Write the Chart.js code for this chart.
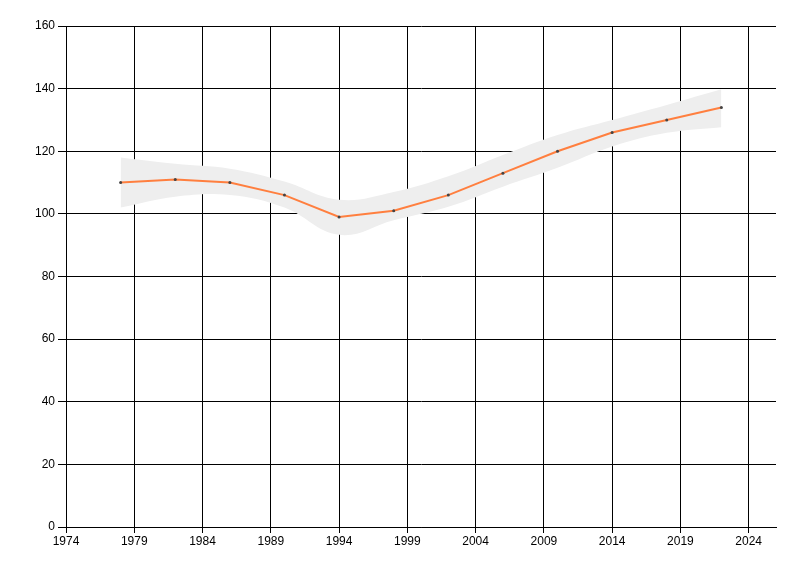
<!DOCTYPE html>
<html>
<head>
<meta charset="utf-8">
<script src="https://cdn.jsdelivr.net/npm/chart.js@4"></script>
<style>
  html, body { margin: 0; padding: 0; background: #fff; }
  #wrap { width: 800px; height: 576px; }
</style>
</head>
<body>
<div id="wrap"><canvas id="c"></canvas></div>
<script>
const years = [1978, 1982, 1986, 1990, 1994, 1998, 2002, 2006, 2010, 2014, 2018, 2022];
const values = [110, 111, 110, 106, 99, 101, 106, 113, 120, 126, 130, 134];
const bandUpper = [118, 116, 114.4, 110.3, 104.5, 107, 112, 118.8, 125.2, 130, 134.8, 139.8];
const bandLower = [102, 105.5, 106, 102, 93.3, 98, 102.3, 108.7, 114.7, 121.5, 125.9, 127.7];
const xTicks = [1974, 1979, 1984, 1989, 1994, 1999, 2004, 2009, 2014, 2019, 2024];
const yTicks = [0, 20, 40, 60, 80, 100, 120, 140, 160];

const pts = (ys) => years.map((x, i) => ({ x: x, y: ys[i] }));

new Chart(document.getElementById('c'), {
  type: 'line',
  data: {
    datasets: [
      {
        data: pts(values),
        borderColor: '#ff7f3f',
        borderWidth: 2,
        tension: 0,
        pointRadius: 1.5,
        pointBackgroundColor: '#444',
        pointBorderWidth: 0,
        fill: false
      },
      {
        data: pts(bandUpper),
        borderWidth: 0,
        borderColor: 'rgba(0,0,0,0)',
        backgroundColor: '#eeeeee',
        pointRadius: 0,
        tension: 0.4,
        fill: '+1'
      },
      {
        data: pts(bandLower),
        borderWidth: 0,
        borderColor: 'rgba(0,0,0,0)',
        pointRadius: 0,
        tension: 0.4,
        fill: false
      }
    ]
  },
  options: {
    responsive: true,
    maintainAspectRatio: false,
    animation: false,
    layout: { padding: { left: 0, right: 24, top: 26, bottom: 0 } },
    plugins: { legend: { display: false }, tooltip: { enabled: false } },
    scales: {
      x: {
        type: 'linear',
        min: 1974,
        max: 2026,
        afterBuildTicks: (axis) => { axis.ticks = xTicks.map(v => ({ value: v })); },
        afterFit: (axis) => { axis.height = 49; },
        border: { color: '#000', width: 1 },
        grid: { color: '#000', lineWidth: 1, tickLength: 6 },
        ticks: {
          color: '#000',
          padding: 1,
          maxRotation: 0,
          font: { family: 'Liberation Sans', size: 12 },
          callback: (v) => String(v)
        }
      },
      y: {
        min: 0,
        max: 160,
        afterBuildTicks: (axis) => { axis.ticks = yTicks.map(v => ({ value: v })); },
        afterFit: (axis) => { axis.width = 66; },
        border: { color: '#000', width: 1 },
        grid: { color: '#000', lineWidth: 1, tickLength: 8 },
        ticks: {
          color: '#000',
          padding: 3,
          font: { family: 'Liberation Sans', size: 12 }
        }
      }
    }
  }
});
</script>
</body>
</html>
